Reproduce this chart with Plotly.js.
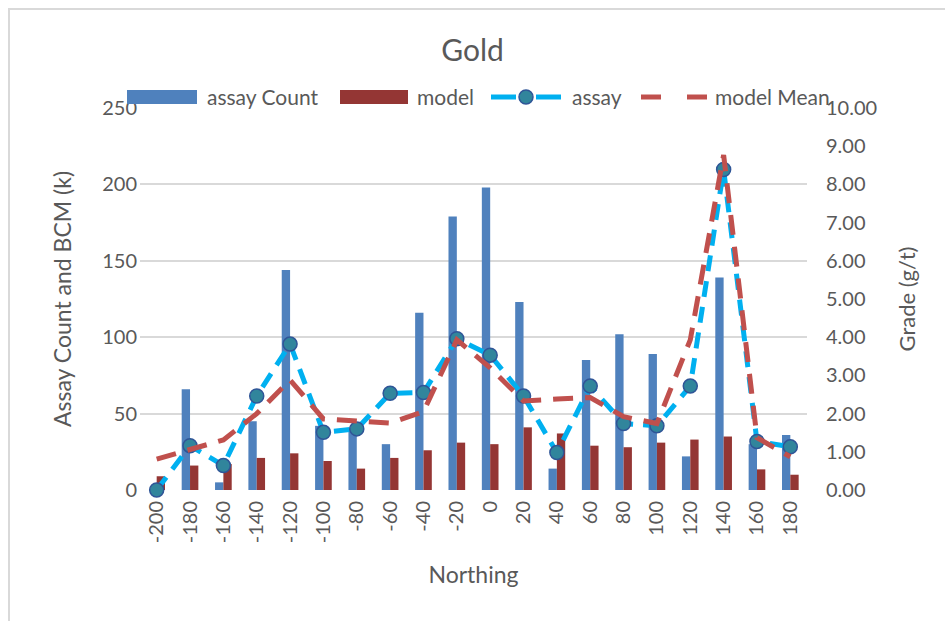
<!DOCTYPE html>
<html>
<head>
<meta charset="utf-8">
<script src="https://cdn.plot.ly/plotly-3.0.1.min.js"></script>
<style>
  html, body { margin: 0; padding: 0; background: #fff; }
  #frame { position: absolute; left: 8px; top: 8px; width: 1000px; height: 700px; border-top: 2px solid #d9d9d9; border-left: 2px solid #d9d9d9; }
  #chart { position: absolute; left: 0; top: 0; width: 945px; height: 621px; }
</style>
</head>
<body>
<div id="frame"></div>
<div id="chart"></div>
<script>
const northing = ["-200","-180","-160","-140","-120","-100","-80","-60","-40","-20","0","20","40","60","80","100","120","140","160","180"];
const assayCount = [0, 66, 5, 45, 144, 42, 40, 30, 116, 179, 198, 123, 14, 85, 102, 89, 22, 139, 30, 36];
const modelBCM = [9, 16, 17, 21, 24, 19, 14, 21, 26, 31, 30, 41, 37, 29, 28, 31, 33, 35, 13.5, 10];
const assayGrade = [0.00, 1.16, 0.64, 2.46, 3.82, 1.51, 1.60, 2.53, 2.55, 3.96, 3.53, 2.46, 0.98, 2.72, 1.74, 1.68, 2.72, 8.39, 1.27, 1.13];
const modelMean = [0.81, 1.07, 1.31, 2.00, 2.88, 1.86, 1.79, 1.75, 2.05, 3.93, 3.20, 2.33, 2.38, 2.42, 1.92, 1.74, 3.93, 8.77, 1.37, 0.87];
const seriesNames = ["assay Count", "model", "assay", "model Mean"];

const FONT = "Lato, 'Open Sans', sans-serif";
const GREY = "#595959";
const BLUE = "#4f81bd";
const DARKRED = "#943634";
const CYAN = "#00b0f0";
const RED = "#c0504d";

const traces = [
  { type: "bar", name: seriesNames[0], x: northing, y: assayCount, marker: { color: BLUE } },
  { type: "bar", name: seriesNames[1], x: northing, y: modelBCM, marker: { color: DARKRED } },
  { type: "scatter", mode: "lines+markers", name: seriesNames[2], x: northing, y: assayGrade, yaxis: "y2",
    line: { color: CYAN, width: 5, dash: "16px,10px" },
    marker: { symbol: "circle", size: 14, color: "#31859c", line: { color: "#2f5597", width: 1.5 } },
    cliponaxis: false },
  { type: "scatter", mode: "lines", name: seriesNames[3], x: northing, y: modelMean, yaxis: "y2",
    line: { color: RED, width: 5, dash: "20px,12px" }, cliponaxis: false }
];

// custom legend (paper coordinates relative to the plot area: left 140px, width 667px, bottom 490px, height 382px)
const L = 140, W = 667, B = 490, H = 382;
const px = v => (v - L) / W;
const py = v => (B - v) / H;
const legY = 97;
const shapes = [
  { type: "rect", xref: "paper", yref: "paper", x0: px(127), x1: px(197), y0: py(104), y1: py(90), fillcolor: BLUE, line: { width: 0 } },
  { type: "rect", xref: "paper", yref: "paper", x0: px(340), x1: px(408), y0: py(104), y1: py(90), fillcolor: DARKRED, line: { width: 0 } },
  { type: "line", xref: "paper", yref: "paper", x0: px(491), x1: px(516), y0: py(legY), y1: py(legY), line: { color: CYAN, width: 5 } },
  { type: "line", xref: "paper", yref: "paper", x0: px(536), x1: px(561), y0: py(legY), y1: py(legY), line: { color: CYAN, width: 5 } },
  { type: "circle", xref: "paper", yref: "paper", xsizemode: "pixel", ysizemode: "pixel", xanchor: px(526), yanchor: py(legY),
    x0: -7, x1: 7, y0: -7, y1: 7, fillcolor: "#31859c", line: { color: "#2f5597", width: 1.5 } },
  { type: "line", xref: "paper", yref: "paper", x0: px(641), x1: px(661), y0: py(legY), y1: py(legY), line: { color: RED, width: 5 } },
  { type: "line", xref: "paper", yref: "paper", x0: px(687), x1: px(707), y0: py(legY), y1: py(legY), line: { color: RED, width: 5 } }
];
const legTextX = [205, 415, 570, 713];
const annotations = seriesNames.map((n, i) => ({
  text: n, xref: "paper", yref: "paper", x: px(legTextX[i]), y: py(legY), xanchor: "left", yanchor: "middle",
  showarrow: false, font: { family: FONT, size: 21, color: GREY }
}));

const layout = {
  width: 945, height: 621,
  paper_bgcolor: "rgba(0,0,0,0)", plot_bgcolor: "rgba(0,0,0,0)",
  margin: { l: 140, r: 138, t: 108, b: 131 },
  font: { family: FONT, color: GREY, size: 20 },
  title: { text: "Gold", font: { family: FONT, size: 30, color: GREY }, x: 0.5, xanchor: "center", y: 0.918, yanchor: "middle" },
  barmode: "group", bargap: 0.5, bargroupgap: 0,
  showlegend: false,
  shapes: shapes,
  annotations: annotations,
  xaxis: { type: "category", range: [-0.5, 19.5], tickangle: -90, showgrid: false, zeroline: false,
           showline: false, ticks: "", tickfont: { size: 20, color: GREY }, ticklabelstandoff: 6,
           title: { text: "Northing", font: { size: 23, color: GREY }, standoff: 24 } },
  yaxis: { range: [0, 250], dtick: 50, showgrid: true, gridcolor: "#d9d9d9", gridwidth: 2,
           zeroline: false, showline: false, ticks: "", tickfont: { size: 20, color: GREY }, ticklabelstandoff: 2,
           title: { text: "Assay Count and BCM (k)", font: { size: 23, color: GREY }, standoff: 24 } },
  yaxis2: { range: [0, 10], dtick: 1, tickformat: ".2f", overlaying: "y", side: "right",
            showgrid: false, zeroline: false, showline: false, ticks: "", ticklabelstandoff: 18,
            tickfont: { size: 20, color: GREY },
            title: { text: "Grade (g/t)", font: { size: 22, color: GREY }, standoff: 23 } }
};

Plotly.newPlot("chart", traces, layout, { displayModeBar: false, staticPlot: true });
</script>
</body>
</html>
